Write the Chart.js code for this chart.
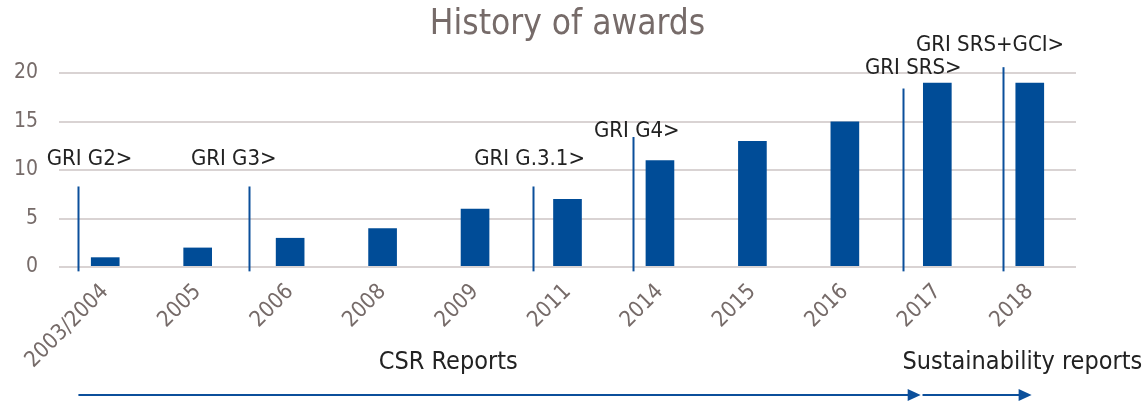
<!DOCTYPE html>
<html lang="en">
<head>
  <meta charset="UTF-8">
  <title>History of awards</title>
  <script src="https://cdn.jsdelivr.net/npm/chart.js"></script>
  <style>
    html, body { margin: 0; padding: 0; background: #fff; }
    #grafica { display: block; }
  </style>
</head>
<body>
  <canvas id="grafica" width="1143" height="404"></canvas>

  <script>
    // datos del grafico
    var years = ['2003/2004', '2005', '2006', '2008', '2009', '2011', '2014', '2015', '2016', '2017', '2018'];
    var awards = [1, 2, 3, 4, 6, 7, 11, 13, 15, 19, 19];
    var yTicks = [0, 5, 10, 15, 20];

    // marcas GRI (posicion en categorias, alto en unidades del eje)
    var griLabels = ['GRI G2>', 'GRI G3>', 'GRI G.3.1>', 'GRI G4>', 'GRI SRS>', 'GRI SRS+GCI>'];
    var griAt = [-0.29, 1.55, 4.63, 5.71, 8.63, 9.71];
    var griTop = [8.3, 8.3, 8.3, 13.4, 18.4, 20.6];
    var griTextAt = [-0.17, 1.39, 4.59, 5.75, 8.74, 9.57];
    var griTextY = [11.1, 11.1, 11.1, 14.0, 20.5, 22.9];

    // flechas de tipo de reporte
    var reportNames = ['CSR Reports', 'Sustainability reports'];
    var reportTextAt = [3.71, 9.92];
    var reportFrom = [-0.29, 8.84];
    var reportTo = [8.82, 10.02];

    var FONT = "'DejaVu Sans Condensed', 'DejaVu Sans', sans-serif";
    var AZUL = '#004c97';
    var LINEA = '#0b4f9b';
    var GRIS = '#766b69';

    var marcas = {
      id: 'marcas',
      afterDatasetsDraw: function (chart) {
        var ctx = chart.ctx;
        var x = chart.scales.x;
        var y = chart.scales.y;
        ctx.save();

        // lineas verticales y textos GRI
        ctx.strokeStyle = LINEA;
        ctx.lineWidth = 2;
        for (var i = 0; i < griAt.length; i++) {
          var px = Math.round(x.getPixelForValue(griAt[i])) + 0.5;
          ctx.beginPath();
          ctx.moveTo(px, y.getPixelForValue(griTop[i]));
          ctx.lineTo(px, y.getPixelForValue(-0.45));
          ctx.stroke();
        }
        ctx.fillStyle = '#222';
        ctx.font = '22px ' + FONT;
        ctx.textAlign = 'center';
        ctx.textBaseline = 'middle';
        for (var j = 0; j < griLabels.length; j++) {
          ctx.fillText(griLabels[j], x.getPixelForValue(griTextAt[j]), y.getPixelForValue(griTextY[j]));
        }

        // textos y flechas de abajo
        var textY = chart.height - 42;
        var arrowY = chart.height - 9;
        ctx.font = '25px ' + FONT;
        for (var k = 0; k < reportNames.length; k++) {
          ctx.fillStyle = '#222';
          ctx.fillText(reportNames[k], x.getPixelForValue(reportTextAt[k]), textY);

          var x0 = x.getPixelForValue(reportFrom[k]);
          var x1 = x.getPixelForValue(reportTo[k]);
          ctx.strokeStyle = LINEA;
          ctx.lineWidth = 2;
          ctx.beginPath();
          ctx.moveTo(x0, arrowY);
          ctx.lineTo(x1 - 12, arrowY);
          ctx.stroke();
          ctx.fillStyle = LINEA;
          ctx.beginPath();
          ctx.moveTo(x1, arrowY);
          ctx.lineTo(x1 - 13, arrowY - 6);
          ctx.lineTo(x1 - 13, arrowY + 6);
          ctx.closePath();
          ctx.fill();
        }
        ctx.restore();
      }
    };

    new Chart(document.getElementById('grafica'), {
      type: 'bar',
      data: {
        labels: years,
        datasets: [{
          label: 'Awards',
          data: awards,
          backgroundColor: AZUL,
          borderWidth: 0,
          categoryPercentage: 1,
          barPercentage: 0.31
        }]
      },
      options: {
        responsive: false,
        animation: false,
        layout: { padding: { left: 0, right: 67, top: 0, bottom: 0 } },
        plugins: {
          legend: { display: false },
          tooltip: { enabled: false },
          title: {
            display: true,
            fullSize: false,
            text: 'History of awards',
            color: GRIS,
            font: { family: FONT, size: 35, weight: 'normal' },
            padding: { top: 4, bottom: 27 }
          }
        },
        scales: {
          x: {
            grid: { display: false, drawTicks: false },
            border: { display: false },
            ticks: {
              color: GRIS,
              font: { family: FONT, size: 22 },
              minRotation: 45,
              maxRotation: 45,
              padding: 12
            },
            afterFit: function (scale) { scale.height = 137; }
          },
          y: {
            min: 0,
            max: 20,
            afterBuildTicks: function (scale) {
              scale.ticks = yTicks.map(function (v) { return { value: v }; });
            },
            grid: { color: '#d9d3d3', lineWidth: 2, drawTicks: false },
            border: { display: false },
            ticks: {
              color: GRIS,
              font: { family: FONT, size: 21 },
              padding: 21
            },
            afterFit: function (scale) { scale.width = 59; }
          }
        }
      },
      plugins: [marcas]
    });
  </script>
</body>
</html>
